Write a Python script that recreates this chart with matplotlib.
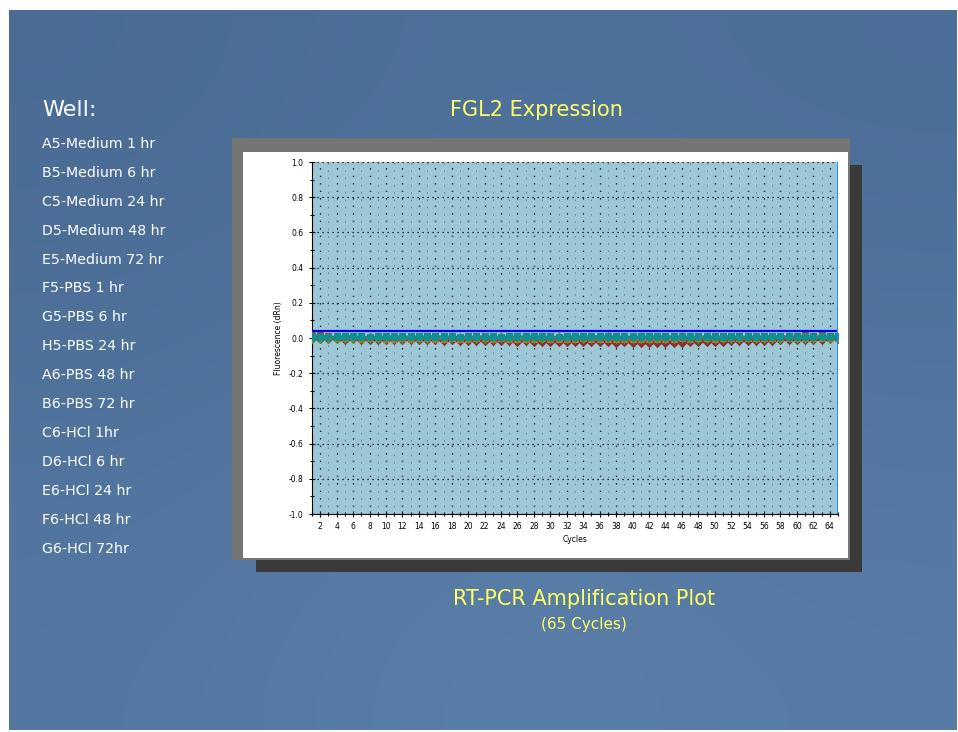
import numpy as np
import matplotlib
matplotlib.use("Agg")
import matplotlib.pyplot as plt
from matplotlib.patches import Rectangle
from matplotlib.ticker import MultipleLocator

W, H = 958, 732

wells = ["A5-Medium 1 hr", "B5-Medium 6 hr", "C5-Medium 24 hr", "D5-Medium 48 hr",
         "E5-Medium 72 hr", "F5-PBS 1 hr", "G5-PBS 6 hr", "H5-PBS 24 hr",
         "A6-PBS 48 hr", "B6-PBS 72 hr", "C6-HCl 1hr", "D6-HCl 6 hr",
         "E6-HCl 24 hr", "F6-HCl 48 hr", "G6-HCl 72hr"]

# fluorescence (dRn) per cycle, in thousandths
drn_milli = {
    "A5": [6, 7, 5, 6, 8, 7, 6, 5, 7, 8, 6, 7, 5, 6, 7, 8, 6, 5, 7, 6,
           8, 7, 6, 5, 7, 6, 8, 9, 7, 6, 5, 7, 8, 6, 7, 5, 6, 8, 7, 6,
           5, 7, 8, 9, 7, 6, 5, 7, 6, 8, 7, 6, 5, 7, 8, 6, 7, 5, 6, 8,
           7, 6, 9, 7, 6],
    "B5": [12, 9, 4, 2, 1, 3, 2, 0, 1, 2, 3, 1, 0, 2, 1, 3, 2, 1, 0, 2,
           1, 3, 2, 0, 1, 5, 7, 4, 2, 1, 0, 2, 1, 3, 2, 1, 4, 6, 3, 2,
           1, 0, 2, 1, 3, 2, 1, 0, 2, 1, 3, 2, 1, 0, 2, 4, 3, 1, 2, 3,
           2, 1, 3, 2, 1],
    "C5": [-2, -1, 0, 1, -1, 0, 2, 1, 0, -1, 1, 0, -1, 2, 1, 0, -1, 0, 1, 2,
           0, -1, 1, 0, -2, -1, 0, 1, -1, 0, 1, 2, 0, -1, 1, 0, -1, 2, 1, 0,
           -1, 0, 1, 2, 0, -1, 1, 0, -2, -1, 0, 1, -1, 0, 1, 2, 0, -1, 1, 0,
           -1, 2, 1, 0, 1],
    "D5": [20, 15, 10, 6, 8, 5, 4, 3, 5, 4, 2, 3, 1, 2, 0, 1, 2, 0, -1, 1,
           0, -1, 0, 1, -2, -1, 0, -1, 1, 0, -1, 0, 1, -2, -1, 0, 1, 0, -1, 0,
           1, 2, 0, 1, 3, 2, 1, 4, 3, 5, 4, 6, 5, 8, 7, 10, 12, 11, 14, 13,
           15, 12, 16, 14, 13],
    "E5": [0, -1, -2, -1, -3, -2, -4, -3, -5, -4, -6, -5, -7, -6, -8, -7, -9, -8, -10, -9,
           -11, -10, -12, -14, -13, -15, -14, -16, -15, -17, -16, -15, -17, -18, -16, -19,
           -18, -20, -19, -21, -20, -22, -21, -23, -22, -20, -19, -18, -17, -16,
           -15, -14, -13, -12, -11, -10, -9, -8, -7, -6, -5, -4, -3, -2, -1],
    "F5": [3, 2, 4, 1, 2, 3, 0, 2, 1, 3, 2, 4, 3, 1, 2, 0, 1, 3, 2, 4,
           3, 2, 1, 0, 2, 3, 1, 2, 4, 3, 2, 1, 3, 2, 0, 1, 2, 3, 1, 2,
           4, 3, 2, 1, 2, 3, 1, 0, 2, 3, 2, 4, 3, 2, 5, 4, 6, 5, 7, 6,
           8, 7, 6, 8, 7],
    "G5": [9, 10, 8, 9, 11, 10, 9, 8, 10, 9, 11, 10, 9, 8, 10, 11, 9, 10, 8, 9,
           10, 11, 9, 8, 10, 9, 11, 12, 10, 9, 8, 10, 9, 11, 10, 12, 11, 10, 9, 8,
           10, 9, 11, 10, 12, 11, 9, 10, 8, 9, 10, 11, 9, 10, 8, 9, 11, 10, 9, 10,
           11, 10, 9, 11, 10],
    "H5": [-3, -4, -5, -4, -6, -5, -4, -6, -5, -7, -6, -5, -4, -6, -5, -7, -6, -5, -7, -8,
           -7, -9, -8, -10, -12, -11, -13, -12, -11, -13, -12, -10, -9, -11, -10, -12,
           -14, -16, -15, -17, -16, -18, -17, -16, -14, -12, -11, -10, -9, -11, -10, -8,
           -7, -6, -5, -4, -3, -4, -2, -3, -1, -2, 0, -1, 0],
    "A6": [2, 1, 3, 4, 2, 3, 1, 2, 4, 3, 2, 1, 3, 2, 4, 3, 1, 2, 3, 1,
           2, 4, 3, 2, 1, 3, 2, 1, 3, 4, 2, 3, 1, 2, 4, 3, 2, 1, 3, 2,
           4, 3, 1, 2, 3, 2, 4, 3, 2, 1, 3, 2, 4, 3, 2, 4, 5, 3, 4, 6,
           5, 4, 6, 5, 4],
    "B6": [5, 4, 6, 5, 3, 4, 5, 6, 4, 5, 3, 4, 6, 5, 4, 5, 3, 4, 5, 6,
           4, 5, 6, 4, 3, 5, 4, 6, 5, 4, 3, 5, 4, 6, 5, 7, 6, 5, 4, 3,
           5, 4, 6, 5, 4, 3, 5, 6, 4, 5, 3, 4, 5, 6, 4, 5, 6, 4, 5, 3,
           4, 5, 6, 5, 4],
    "C6": [15, 8, 3, 0, -2, -1, -3, -2, -1, -3, -4, -2, -3, -1, -2, -4, -3, -2, -4, -3,
           -2, -1, -3, -2, -4, -5, -3, -4, -2, -3, -5, -4, -3, -2, -4, -6, -5, -4, -3, -5,
           -4, -6, -5, -3, -4, -2, -3, -1, -2, -3, -1, -2, 0, -1, -2, 0, 1, -1, 0, 2,
           1, 0, 2, 1, 0],
    "D6": [7, 8, 6, 7, 9, 8, 7, 6, 8, 7, 9, 8, 10, 9, 8, 7, 9, 8, 7, 6,
           8, 9, 10, 8, 7, 9, 8, 7, 6, 8, 7, 9, 10, 8, 9, 7, 8, 6, 7, 9,
           8, 7, 9, 8, 6, 7, 8, 9, 10, 8, 7, 9, 8, 7, 9, 8, 10, 9, 8, 7,
           9, 8, 10, 9, 8],
    "E6": [1, 0, -1, 0, 1, -1, -2, -1, 0, -1, -2, -3, -2, -1, -3, -2, -1, -2, -3, -4,
           -3, -2, -4, -3, -2, -3, -1, -2, -3, -4, -2, -3, -5, -4, -3, -2, -4, -3, -5, -4,
           -3, -2, -4, -3, -2, -1, -3, -2, -1, 0, -1, -2, 0, -1, 0, 1, 0, -1, 1, 0,
           2, 1, 0, 1, 2],
    "F6": [4, 3, 5, 4, 3, 5, 6, 4, 5, 3, 4, 6, 5, 4, 3, 5, 4, 6, 5, 3,
           4, 5, 3, 4, 6, 5, 4, 3, 5, 6, 4, 5, 3, 4, 5, 6, 4, 3, 5, 4,
           6, 5, 4, 3, 5, 4, 6, 5, 3, 4, 5, 6, 8, 7, 9, 10, 12, 11, 13, 15,
           14, 16, 13, 15, 14],
    "G6": [-1, 1, 0, 2, 1, 0, -1, 1, 2, 0, 1, -1, 0, 1, 2, 0, 1, 3, 2, 1,
           0, 2, 1, 3, 2, 0, 1, 2, 0, 1, 3, 2, 1, 0, 2, 1, 3, 2, 0, 1,
           2, 1, 0, 2, 1, 3, 2, 1, 0, 2, 1, 0, 2, 3, 1, 2, 0, 1, 3, 2,
           1, 2, 3, 1, 2],
}

well_colors = ["#118a8a", "#ff8c00", "#9c9c00", "#d42a1e", "#8b2f2f",
               "#7b3f8c", "#0b8585", "#a0522d", "#2e8b57", "#1a9090",
               "#e07020", "#0f8f8f", "#b03030", "#c8a000", "#6b8e23"]
well_markers = ["s", "^", "o", "v", "D", "x", "s", "+", "o", "s",
                "^", "s", "v", "^", "d"]

threshold = 0.04
cycles_max = 65
y_ticks = [-1.0, -0.8, -0.6, -0.4, -0.2, 0.0, 0.2, 0.4, 0.6, 0.8, 1.0]


def box(x0, y0, x1, y1):
    # pixel box (top-left origin) -> figure fraction [l, b, w, h]
    return [x0 / W, 1 - y1 / H, (x1 - x0) / W, (y1 - y0) / H]


fig = plt.figure(figsize=(W / 100, H / 100), dpi=100, facecolor="white")

# slide background
bg = fig.add_axes(box(9, 10, 957, 730), zorder=-5)
grad = np.array([[0.0, 0.3, 0.15], [0.6, 1.0, 0.8]])
bg.imshow(grad, cmap=matplotlib.colors.LinearSegmentedColormap.from_list(
    "slide", ["#496b94", "#5b80aa"]), aspect="auto", interpolation="bicubic",
    extent=[0, 1, 0, 1])
bg.set_axis_off()

# chart frame: shadow, gray frame, white panel
for b, c in [((850, 165, 862, 572), "#3a3a3a"), ((256, 558, 862, 572), "#3a3a3a"),
             ((232, 138, 850, 560), "#757575"), ((243, 152, 848, 558), "#ffffff")]:
    l, bt, w, h = box(*b)
    fig.patches.append(Rectangle((l, bt), w, h, transform=fig.transFigure,
                                 facecolor=c, edgecolor="none", zorder=-2))

ax = fig.add_axes(box(312, 162, 838, 514))
ax.set_facecolor("#9bc7d7")

for i, (key, vals) in enumerate(drn_milli.items()):
    y = np.array(vals) / 1000.0
    x = np.arange(1, len(y) + 1)
    # teal square wells sit on top, as in the instrument plot
    z = 3.5 if well_markers[i] == "s" else 3
    ax.plot(x, y, color=well_colors[i], lw=1.0, marker=well_markers[i],
            markersize=4.6, markeredgewidth=0.7, zorder=z)

ax.axhline(threshold, color="#0000ee", lw=1.6, zorder=4)
ax.axvline(cycles_max, color="#1e90ff", lw=1.4, zorder=4)

ax.set_xlim(1, cycles_max)
ax.set_ylim(-1.0, 1.0)
ax.set_xticks(range(2, 65, 2))
ax.xaxis.set_minor_locator(MultipleLocator(1))
ax.set_yticks(y_ticks)
ax.set_yticklabels([f"{v:.1f}" for v in y_ticks])
ax.yaxis.set_minor_locator(MultipleLocator(0.1))

# dotted grid: black at major ticks, faint gray at odd cycles
ax.grid(which="major", axis="x", color="black", ls=(0, (1, 5)), lw=0.9)
ax.grid(which="minor", axis="x", color="#6a7f88", ls=(0, (1.5, 6)), lw=0.7)
ax.grid(which="major", axis="y", color="black", ls=(0, (1, 3)), lw=0.9)
ax.tick_params(which="both", direction="inout", labelsize=5.5, width=0.8)
ax.tick_params(which="major", length=5)
ax.tick_params(which="minor", length=3)
for s in ["top", "right"]:
    ax.spines[s].set_visible(False)
ax.set_xlabel("Cycles", fontsize=5.5, labelpad=3)
ax.set_ylabel("Fluorescence (dRn)", fontsize=5.5, labelpad=4)

# slide text
fig.text(42 / W, 1 - 110 / H, "Well:", color="white", fontsize=16, va="center")
for i, name in enumerate(wells):
    fig.text(42 / W, 1 - (144 + i * 28.9) / H, name, color="white",
             fontsize=10.2, va="center")

yellow = "#ffff66"
fig.text(536 / W, 1 - 110 / H, "FGL2 Expression", color=yellow, fontsize=15,
         ha="center", va="center")
fig.text(584 / W, 1 - 599 / H, "RT-PCR Amplification Plot", color=yellow,
         fontsize=15, ha="center", va="center")
fig.text(584 / W, 1 - 625 / H, "(65 Cycles)", color=yellow, fontsize=11,
         ha="center", va="center")

fig.savefig("out.png", dpi=100, facecolor="white")
